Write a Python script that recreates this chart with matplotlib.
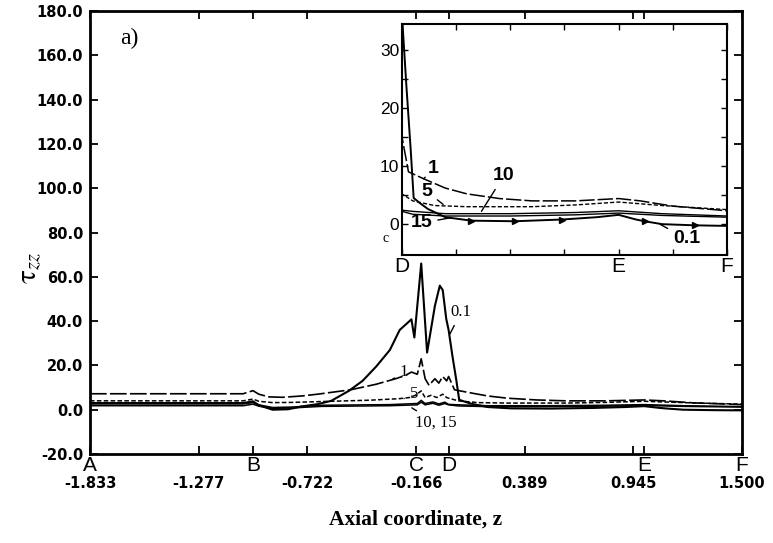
import numpy as np
import matplotlib.pyplot as plt
from matplotlib.transforms import blended_transform_factory

# axial normal stress tau_zz along the axis, one curve per We
z_01 = [-1.833, -1.05, -1.0, -0.97, -0.9, -0.82, -0.75, -0.67, -0.6, -0.51, -0.44,
        -0.37, -0.3, -0.25, -0.19, -0.175, -0.14, -0.11, -0.07, -0.045, -0.03,
        -0.012, 0.0, 0.02, 0.04, 0.054, 0.08, 0.12, 0.2, 0.32, 0.52, 0.74, 0.9,
        1.0, 1.08, 1.12, 1.2, 1.35, 1.5]
tau_01 = [3.0, 3.0, 3.8, 2.0, 0.0, 0.2, 1.5, 2.5, 4.0, 8.5, 13.0,
          19.5, 27.0, 36.0, 40.8, 32.6, 66.0, 25.8, 46.9, 56.0, 54.0,
          41.0, 36.0, 24.0, 13.0, 4.5, 3.7, 2.6, 1.2, 0.6, 0.5, 0.8, 1.2,
          1.6, 0.8, 0.5, 0.0, -0.2, -0.3]

z_1 = [-1.833, -1.05, -1.0, -0.97, -0.92, -0.85, -0.75, -0.67, -0.5, -0.37, -0.27,
       -0.22, -0.19, -0.16, -0.14, -0.12, -0.1, -0.07, -0.05, -0.03, -0.01, 0.0,
       0.03, 0.1, 0.2, 0.3, 0.45, 0.6, 0.8, 1.0, 1.1, 1.25, 1.5]
tau_1 = [7.2, 7.2, 8.6, 7.0, 5.8, 5.6, 6.2, 7.0, 9.0, 11.5, 14.0,
         15.5, 17.0, 16.0, 23.0, 14.0, 11.0, 14.0, 12.0, 15.0, 13.0, 15.0,
         9.0, 7.8, 6.2, 5.2, 4.4, 4.0, 4.0, 4.4, 4.0, 3.1, 2.3]

z_5 = [-1.833, -1.05, -1.0, -0.97, -0.9, -0.8, -0.6, -0.4, -0.25, -0.2, -0.17,
       -0.14, -0.12, -0.09, -0.06, -0.03, -0.01, 0.0, 0.05, 0.15, 0.3, 0.6,
       0.8, 1.0, 1.2, 1.5]
tau_5 = [4.0, 4.0, 4.8, 3.8, 3.2, 3.3, 3.8, 4.3, 5.0, 5.5, 6.5,
         8.5, 5.5, 6.5, 5.5, 7.0, 5.5, 5.2, 4.0, 3.2, 3.0, 3.0,
         3.3, 3.8, 3.2, 2.5]

z_10 = [-1.833, -1.05, -1.0, -0.97, -0.9, -0.8, -0.65, -0.3, -0.16, -0.14, -0.12,
        -0.08, -0.05, -0.02, 0.0, 0.05, 0.2, 0.5, 0.8, 1.0, 1.2, 1.5]
tau_10 = [2.6, 2.6, 3.2, 2.2, 1.0, 1.2, 2.0, 2.3, 2.8, 4.2, 2.8,
          3.5, 2.6, 3.4, 2.4, 2.2, 1.8, 1.8, 2.0, 2.3, 1.8, 1.4]

z_15 = [-1.833, -1.05, -1.0, -0.97, -0.9, -0.8, -0.65, -0.3, -0.16, -0.14, -0.12,
        -0.08, -0.05, -0.02, 0.0, 0.05, 0.2, 0.5, 0.8, 1.0, 1.2, 1.5]
tau_15 = [1.8, 1.8, 2.5, 1.6, 0.6, 0.8, 1.5, 1.8, 2.2, 3.4, 2.2,
          2.9, 2.0, 2.8, 2.2, 1.7, 1.4, 1.4, 1.6, 1.9, 1.5, 1.2]

x_ticks = [-1.833, -1.277, -0.722, -0.166, 0.389, 0.945, 1.500]
y_ticks = [-20, 0, 20, 40, 60, 80, 100, 120, 140, 160, 180]
stations = ['A', 'B', 'C', 'D', 'E', 'F']
station_z = [-1.833, -1.0, -0.166, 0.0, 1.0, 1.5]
arrow_z = [0.32, 0.52, 0.74, 1.12, 1.35]

plt.rcParams['mathtext.fontset'] = 'stix'

sans = ['DejaVu Sans']
narrow = ['Liberation Sans Narrow', 'Liberation Sans', 'DejaVu Sans']
serif = ['Liberation Serif', 'DejaVu Serif']

fig = plt.figure(figsize=(7.73, 5.43), dpi=100)
ax = fig.add_axes([0.1164, 0.1639, 0.8436, 0.8158])

ax.plot(z_01, tau_01, color='k', lw=1.5)
ax.plot(z_1, tau_1, color='k', lw=1.2, ls=(0, (10, 2)))
ax.plot(z_5, tau_5, color='k', lw=1.1, ls=(0, (3, 1.5)))
ax.plot(z_10, tau_10, color='k', lw=1.1)
ax.plot(z_15, tau_15, color='k', lw=1.1)

ax.set_xlim(-1.833, 1.5)
ax.set_ylim(-20, 180)
ax.set_xticks(x_ticks)
ax.set_xticklabels(['%.3f' % v for v in x_ticks], family=sans, fontsize=10.5, weight='bold')
ax.set_xticks([-1.0, 0.0, 1.0], minor=True)
ax.set_yticks(y_ticks)
ax.set_yticklabels(['%.1f' % v for v in y_ticks], family=sans, fontsize=10.5, weight='bold')
ax.tick_params(which='both', direction='in', top=True, right=True, length=6, width=1.3)
ax.tick_params(axis='x', pad=15.5)
ax.tick_params(axis='y', pad=5)
for s in ax.spines.values():
    s.set_linewidth(2)

trans = blended_transform_factory(ax.transData, ax.transAxes)
for name, zs in zip(stations, station_z):
    ax.text(zs, -0.005, name, transform=trans, ha='center', va='top',
            fontsize=15, family=narrow)

ax.set_xlabel('Axial coordinate, z', family=serif, fontsize=15.5, weight='bold', labelpad=14)
ax.set_ylabel(r'$\mathrm{\tau}_{zz}$', fontsize=21, rotation=90)
ax.yaxis.set_label_coords(-0.07, 0.42)
ax.text(0.046, 0.925, 'a)', transform=ax.transAxes, family=serif, fontsize=17)

# curve labels in main plot
lab = dict(family=serif, fontsize=12)
ax.annotate('0.1', xy=(0.0, 33), xytext=(0.01, 44), ha='left', va='center',
            arrowprops=dict(arrowstyle='-', lw=1, color='k'), **lab)
ax.annotate('1', xy=(-0.3, 13), xytext=(-0.25, 17), ha='left', va='center',
            arrowprops=dict(arrowstyle='-', lw=1, color='k'), **lab)
ax.annotate('5', xy=(-0.24, 4.5), xytext=(-0.2, 7), ha='left', va='center',
            arrowprops=dict(arrowstyle='-', lw=1, color='k'), **lab)
ax.annotate('10, 15', xy=(-0.2, 1.5), xytext=(-0.17, -6), ha='left', va='center',
            arrowprops=dict(arrowstyle='-', lw=1, color='k'), **lab)

# inset: region D-F
ins = fig.add_axes([0.520, 0.5304, 0.4205, 0.4254])
ins.plot(z_01, tau_01, color='k', lw=1.4, marker='>', ms=4,
         markevery=[z_01.index(v) for v in arrow_z])
ins.plot(z_1, tau_1, color='k', lw=1.1, ls=(0, (10, 2)))
ins.plot(z_5, tau_5, color='k', lw=1.0, ls=(0, (3, 1.5)))
ins.plot(z_10, tau_10, color='k', lw=1.0)
ins.plot(z_15, tau_15, color='k', lw=1.0)
ins.set_xlim(0, 1.5)
ins.set_ylim(-5.3, 34.4)
ins.set_xticks(np.arange(0, 1.51, 0.25))
ins.set_xticklabels([])
ins.set_yticks([0, 10, 20, 30])
ins.set_yticks([5, 15, 25], minor=True)
ins.set_yticklabels(['0', '10', '20', '30'], family=narrow, fontsize=12.5)
ins.tick_params(which='both', direction='in', top=True, right=True, length=4, width=1)
ins.tick_params(axis='y', pad=2)
for s in ins.spines.values():
    s.set_linewidth(1.5)

itrans = blended_transform_factory(ins.transData, ins.transAxes)
for name, zs in zip(['D', 'E', 'F'], [0.0, 1.0, 1.5]):
    ins.text(zs, -0.01, name, transform=itrans, ha='center', va='top',
             fontsize=15, family=narrow)

blab = dict(family=narrow, fontsize=14, weight='bold')
ins.annotate('1', xy=(0.1, 7.8), xytext=(0.12, 9.5), ha='left', va='center',
             arrowprops=dict(arrowstyle='-', lw=1, color='k'), **blab)
ins.annotate('5', xy=(0.2, 3.1), xytext=(0.09, 5.6), ha='left', va='center',
             arrowprops=dict(arrowstyle='-', lw=1, color='k'), **blab)
ins.annotate('10', xy=(0.36, 1.8), xytext=(0.42, 8.3), ha='left', va='center',
             arrowprops=dict(arrowstyle='-', lw=1, color='k'), **blab)
ins.annotate('15', xy=(0.24, 1.2), xytext=(0.04, 0.2), ha='left', va='center',
             arrowprops=dict(arrowstyle='-', lw=1, color='k'), **blab)
ins.annotate('0.1', xy=(1.18, 0.2), xytext=(1.25, -2.5), ha='left', va='center',
             arrowprops=dict(arrowstyle='-', lw=1, color='k'), **blab)

fig.text(0.495, 0.555, 'c', fontsize=10, family=serif)

fig.savefig('out.png', dpi=100)
